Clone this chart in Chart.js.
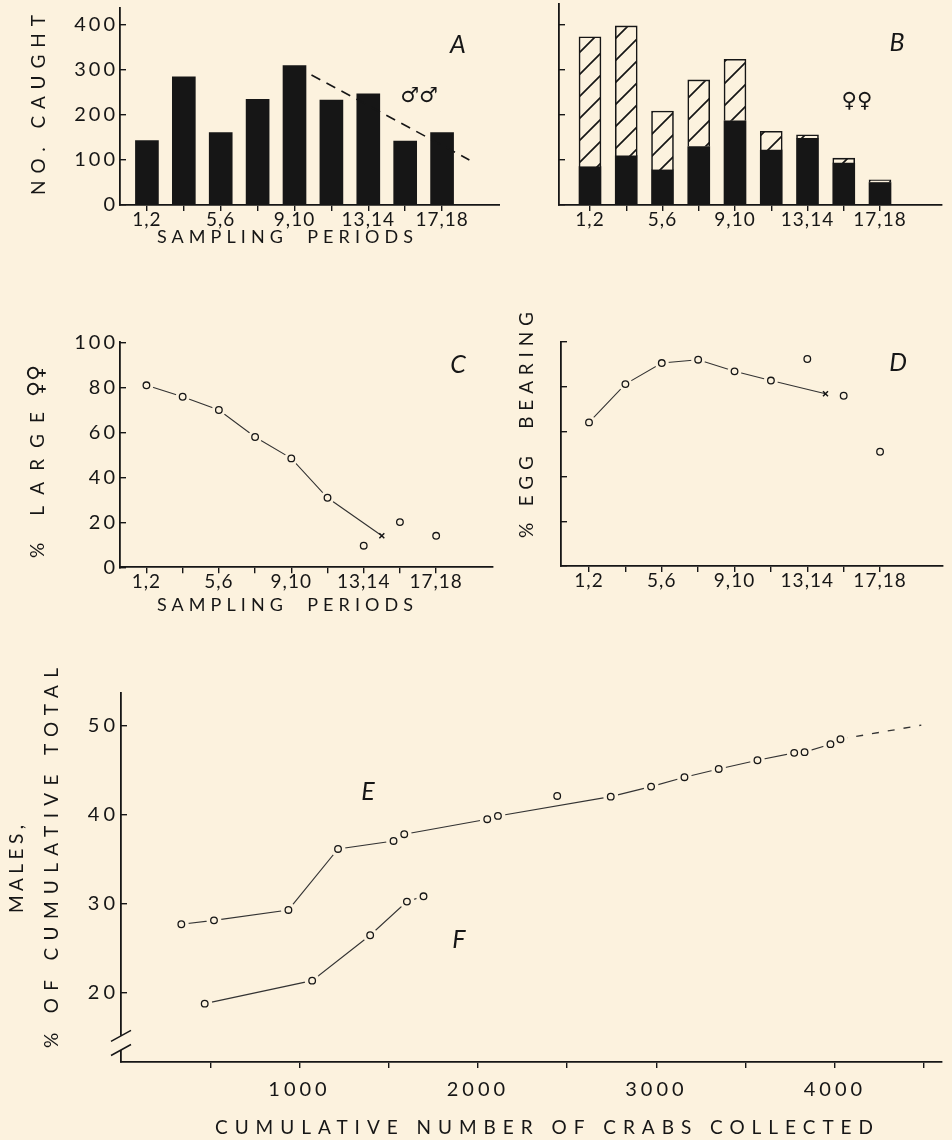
<!DOCTYPE html>
<html><head><meta charset="utf-8">
<script src="https://cdn.jsdelivr.net/npm/chart.js@4.4.1/dist/chart.umd.min.js"></script>
<style>
html,body{margin:0;padding:0;background:#fcf2de;}
#wrap{position:relative;width:952px;height:1140px;overflow:hidden;background:#fcf2de;}
canvas{position:absolute;}
</style></head><body>
<div id="wrap">
<canvas id="cA" width="500" height="250" style="left:0px;top:0px"></canvas>
<canvas id="cB" width="452" height="250" style="left:500px;top:0px"></canvas>
<canvas id="cC" width="500" height="340" style="left:0px;top:280px"></canvas>
<canvas id="cD" width="452" height="340" style="left:500px;top:280px"></canvas>
<canvas id="cE" width="952" height="500" style="left:0px;top:640px"></canvas>
</div>
<script>
// ---------------- data ----------------
const periods = ['1,2','3,4','5,6','7,8','9,10','11,12','13,14','15,16','17,18'];
const labeledPeriods = ['1,2','5,6','9,10','13,14','17,18'];

const malesCaught = [143, 285, 161, 235, 310, 233, 247, 142, 161];
const maleTrendX = [4.46, 8.74];
const maleTrendY = [289, 100];

const femalesTotal = [374, 398, 209, 278, 324, 164, 156, 104, 56];
const femalesDark  = [85, 109, 78, 130, 187, 122, 148, 93, 50];
const countTicks = [0, 100, 200, 300, 400];

const pctLarge = [80.9, 75.8, 69.9, 57.9, 48.4, 30.9, 9.6, 20.1, 14.0];
const largeCrossX = [6.5];
const largeCrossY = [14.0];

const pctEgg = [64.1, 81.2, 90.6, 92.1, 86.9, 82.8, 92.4, 76.0, 51.0];
const eggCrossX = [6.5];
const eggCrossY = [76.9];
const linkedPeriods = 6;           // first six periods joined by the line
const pctTicks = [0, 20, 40, 60, 80, 100];

const crabsE = [338, 521, 938, 1216, 1527, 1587, 2052, 2112, 2444, 2744, 2970, 3157, 3349, 3566, 3772, 3830, 3975, 4031];
const malesE = [27.66, 28.1, 29.27, 36.14, 37.04, 37.8, 39.49, 39.86, 42.11, 42.03, 43.16, 44.22, 45.15, 46.13, 46.96, 47.04, 47.94, 48.5];
const offLineE = [2444];
const extE_X = [4031, 4484];
const extE_Y = [48.5, 50.08];

const crabsF = [469, 1071, 1396, 1602, 1695];
const malesF = [18.72, 21.31, 26.42, 30.21, 30.81];

const cumTicks = [500, 1000, 1500, 2000, 2500, 3000, 3500, 4000, 4500];
const cumLabeled = [1000, 2000, 3000, 4000];
const pctMaleTicks = [20, 30, 40, 50];

// ---------------- style ----------------
const INK = '#161616';
const LINE = '#333333';
const BG = '#fcf2de';
const FONT = 'Lato, "DejaVu Sans", sans-serif';
const SYMFONT = '"DejaVu Sans", sans-serif';

function pts(xs, ys){ return xs.map((x,i)=>({x:x, y:ys[i]})); }

// letter spacing for the tick labels of each axis
function spacingPlugin(map){
  return {id:'spacing', afterLayout(chart){
    Object.keys(map).forEach(id=>{
      const s = chart.scales[id];
      if (!s || s.__spaced) return;
      const orig = s.drawLabels;
      s.drawLabels = function(ca){
        const ctx = this.ctx;
        ctx.letterSpacing = map[id];
        orig.call(this, ca);
        ctx.letterSpacing = '0px';
      };
      s.__spaced = true;
    });
  }};
}

function textPlugin(items){
  return {id:'txt', afterDraw(chart){
    const ctx = chart.ctx;
    items.forEach(it=>{
      ctx.save();
      ctx.font = (it.italic?'italic ':'') + (it.weight||400) + ' ' + it.size + 'px ' + (it.family||FONT);
      ctx.fillStyle = INK;
      ctx.textAlign = 'center'; ctx.textBaseline = 'middle';
      ctx.letterSpacing = '0px';
      let ls = 0;
      if (it.width){ const w = ctx.measureText(it.text).width; ls = (it.width - w) / Math.max(1, it.text.length - 1); }
      ctx.letterSpacing = ls + 'px';
      ctx.translate(it.x, it.y);
      if (it.rot) ctx.rotate(it.rot*Math.PI/180);
      ctx.fillText(it.text, ls/2, 0);
      ctx.restore();
    });
    ctx.letterSpacing = '0px';
  }};
}

function periodAxis(min, max, height, showLabels, pad){
  return {
    type:'linear', position:'bottom', min:min, max:max, offset:false,
    afterBuildTicks: s => { s.ticks = periods.map((_,i)=>({value:i})); },
    afterFit: s => { s.height = height; s.paddingLeft = 0; s.paddingRight = 0; },
    border:{display:true, color:INK, width:1.8},
    grid:{display:true, offset:false, drawOnChartArea:false, drawTicks:true, tickLength:6, color:INK, lineWidth:1.4},
    ticks:{display:showLabels, autoSkip:false, maxRotation:0, padding:pad, color:INK,
      font:{family:FONT, size:19, weight:400},
      callback:(v)=> labeledPeriods.includes(periods[v]) ? periods[v] : ''}
  };
}
function valueAxis(min, max, width, tickList, showLabels, size){
  return {
    type:'linear', position:'left', min:min, max:max,
    afterBuildTicks: s => { s.ticks = tickList.map(v=>({value:v})); },
    afterFit: s => { s.width = width; s.paddingTop = 0; s.paddingBottom = 0; },
    border:{display:true, color:INK, width:1.8},
    grid:{display:true, drawOnChartArea:false, drawTicks:true, tickLength:-6, color:INK, lineWidth:1.4},
    ticks:{display:showLabels, padding:8, color:INK, font:{family:FONT, size:size||20, weight:400},
      callback:(v)=>String(v)}
  };
}
const base = {responsive:false, animation:false, events:[],
  plugins:{legend:{display:false}, tooltip:{enabled:false}}};

function hatchPattern(){
  const n = 22;
  const c = document.createElement('canvas'); c.width = n; c.height = n;
  const x = c.getContext('2d');
  x.fillStyle = BG; x.fillRect(0,0,n,n);
  x.strokeStyle = INK; x.lineWidth = 1.7;
  x.beginPath();
  x.moveTo(-2, n+2); x.lineTo(n+2, -2);
  x.moveTo(-n/2-2, n/2+2); x.lineTo(n/2+2, -n/2-2);
  x.moveTo(n/2-2, 1.5*n+2); x.lineTo(1.5*n+2, n/2-2);
  x.stroke();
  return document.getElementById('cB').getContext('2d').createPattern(c, 'repeat');
}

function circleSets(data, haloR){
  return [
    {type:'scatter', data:data, order:2, pointRadius:haloR, pointBackgroundColor:BG, pointBorderColor:BG, pointBorderWidth:0, showLine:false},
    {type:'scatter', data:data, order:1, pointRadius:3.3, pointBackgroundColor:BG, pointBorderColor:INK, pointBorderWidth:1.3, showLine:false}
  ];
}

// ---------------- A ----------------
new Chart(document.getElementById('cA'), {
  type:'bar',
  data:{datasets:[
    {type:'bar', data:pts(periods.map((_,i)=>i), malesCaught), backgroundColor:INK, barThickness:23, order:3},
    {type:'line', data:pts(maleTrendX, maleTrendY), borderColor:INK, borderWidth:1.6, borderDash:[10,7], pointRadius:0, order:1}
  ]},
  options:Object.assign({}, base, {
    layout:{padding:{top:8, right:0, left:0, bottom:0}},
    scales:{
      x: periodAxis(-0.73, 9.57, 45, true, -3),
      y: valueAxis(0, 437.8, 120, countTicks, true)
    }
  }),
  plugins:[spacingPlugin({x:'1px', y:'3px'}), textPlugin([
    {text:'NO. CAUGHT', x:39, y:105, rot:-90, size:19, width:180},
    {text:'SAMPLING  PERIODS', x:285, y:237, size:18, width:256},
    {text:'A', x:458, y:45, size:25, italic:true},
    {text:'\u2642\u2642', x:419, y:97, size:21, family:SYMFONT}
  ])]
});

// ---------------- B ----------------
new Chart(document.getElementById('cB'), {
  type:'bar',
  data:{datasets:[
    {data:pts(periods.map((_,i)=>i), femalesDark), backgroundColor:INK, barThickness:22},
    {data:pts(periods.map((_,i)=>i), femalesTotal.map((t,i)=>t - femalesDark[i])), backgroundColor:hatchPattern(), borderColor:INK, borderWidth:1.6, barThickness:22}
  ]},
  options:Object.assign({}, base, {
    layout:{padding:{top:4, right:10, left:0, bottom:0}},
    scales:{
      x: Object.assign(periodAxis(-0.855, 9.71, 45, true, -3), {stacked:true}),
      y: Object.assign(valueAxis(0, 446.7, 59, countTicks, false), {stacked:true})
    }
  }),
  plugins:[spacingPlugin({x:'1px'}), textPlugin([
    {text:'B', x:397, y:43, size:25, italic:true},
    {text:'\u2640\u2640', x:357, y:102, size:21, family:SYMFONT}
  ])]
});

// ---------------- C / D ----------------
function pctChart(id, vals, crossX, crossY, xmin, xmax, yWidth, xHeight, padTop, padRight, showY, texts){
  const all = pts(periods.map((_,i)=>i), vals);
  const linked = all.slice(0, linkedPeriods).concat(pts(crossX, crossY));
  new Chart(document.getElementById(id), {
    type:'scatter',
    data:{datasets:[
      {type:'line', data:linked, borderColor:LINE, borderWidth:1.1, pointRadius:0, order:3},
      ...circleSets(all, 7),
      {type:'scatter', data:pts(crossX, crossY), pointStyle:'crossRot', pointRadius:3.5, pointBorderColor:INK, pointBorderWidth:1.5, order:0}
    ]},
    options:Object.assign({}, base, {
      layout:{padding:{top:padTop, right:padRight, left:0, bottom:0}},
      scales:{
        x: periodAxis(xmin, xmax, xHeight, true, -3),
        y: valueAxis(0, 100, yWidth, pctTicks, showY)
      }
    }),
    plugins:[spacingPlugin({x:'1px', y:'3px'}), textPlugin(texts)]
  });
}
pctChart('cC', pctLarge, largeCrossX, largeCrossY, -0.73, 9.57, 120, 52.7, 62.3, 0, true, [
  {text:'% LARGE', x:38, y:205, rot:-90, size:19, width:146},
  {text:'\u2640\u2640', x:37, y:101, rot:-90, size:22, family:SYMFONT},
  {text:'SAMPLING  PERIODS', x:285, y:325, size:18, width:256},
  {text:'C', x:458, y:85, size:25, italic:true}
]);
pctChart('cD', pctEgg, eggCrossX, eggCrossY, -0.77, 9.73, 61, 54, 62, 9, false, [
  {text:'% EGG  BEARING', x:27, y:145, rot:-90, size:19, width:226},
  {text:'D', x:398, y:83, size:25, italic:true}
]);

// ---------------- E / F ----------------
const breakPlugin = {id:'brk', afterDraw(chart){
  const ctx = chart.ctx, x = chart.chartArea.left, ys = chart.scales.y;
  const y1 = ys.getPixelForValue(15.1), y2 = ys.getPixelForValue(13.5);
  ctx.save();
  ctx.fillStyle = BG; ctx.fillRect(x-4, y1, 8, y2-y1);
  ctx.strokeStyle = INK; ctx.lineWidth = 1.5;
  ctx.beginPath();
  ctx.moveTo(x-10, y1+5.5); ctx.lineTo(x+10, y1-5.5);
  ctx.moveTo(x-10, y2+5.5); ctx.lineTo(x+10, y2-5.5);
  ctx.stroke(); ctx.restore();
}};
const ePts = pts(crabsE, malesE);
const fPts = pts(crabsF, malesF);
new Chart(document.getElementById('cE'), {
  type:'scatter',
  data:{datasets:[
    {type:'line', data:ePts.filter(p=>!offLineE.includes(p.x)), borderColor:LINE, borderWidth:1.1, pointRadius:0, order:3},
    {type:'line', data:pts(extE_X, extE_Y), borderColor:LINE, borderWidth:1.3, borderDash:[7,9], pointRadius:0, order:3},
    {type:'line', data:fPts, borderColor:LINE, borderWidth:1.1, pointRadius:0, order:3},
    ...circleSets(ePts.concat(fPts), 7.5)
  ]},
  options:Object.assign({}, base, {
    layout:{padding:{top:53, right:10, left:0, bottom:0}},
    scales:{
      x:{type:'linear', position:'bottom', min:0, max:4600,
        afterBuildTicks: s => { s.ticks = cumTicks.map(v=>({value:v})); },
        afterFit: s => { s.height = 78; s.paddingLeft = 0; s.paddingRight = 0; },
        border:{display:true, color:INK, width:1.8},
        grid:{display:true, drawOnChartArea:false, drawTicks:true, tickLength:6, color:INK, lineWidth:1.4},
        ticks:{autoSkip:false, maxRotation:0, padding:10, color:INK, font:{family:FONT, size:20, weight:400},
          callback:(v)=> cumLabeled.includes(v) ? String(v) : ''}
      },
      y: valueAxis(12.15, 53.7, 121, pctMaleTicks, true, 20)
    }
  }),
  plugins:[spacingPlugin({x:'4px', y:'4px'}), breakPlugin, textPlugin([
    {text:'MALES,', x:17, y:229, rot:-90, size:19, width:88},
    {text:'% OF CUMULATIVE TOTAL', x:52, y:218, rot:-90, size:19, width:380},
    {text:'E', x:368, y:152, size:25, italic:true},
    {text:'F', x:459, y:300, size:25, italic:true},
    {text:'CUMULATIVE NUMBER OF CRABS COLLECTED', x:544, y:488, size:19, width:658}
  ])]
});
</script>
</body></html>
